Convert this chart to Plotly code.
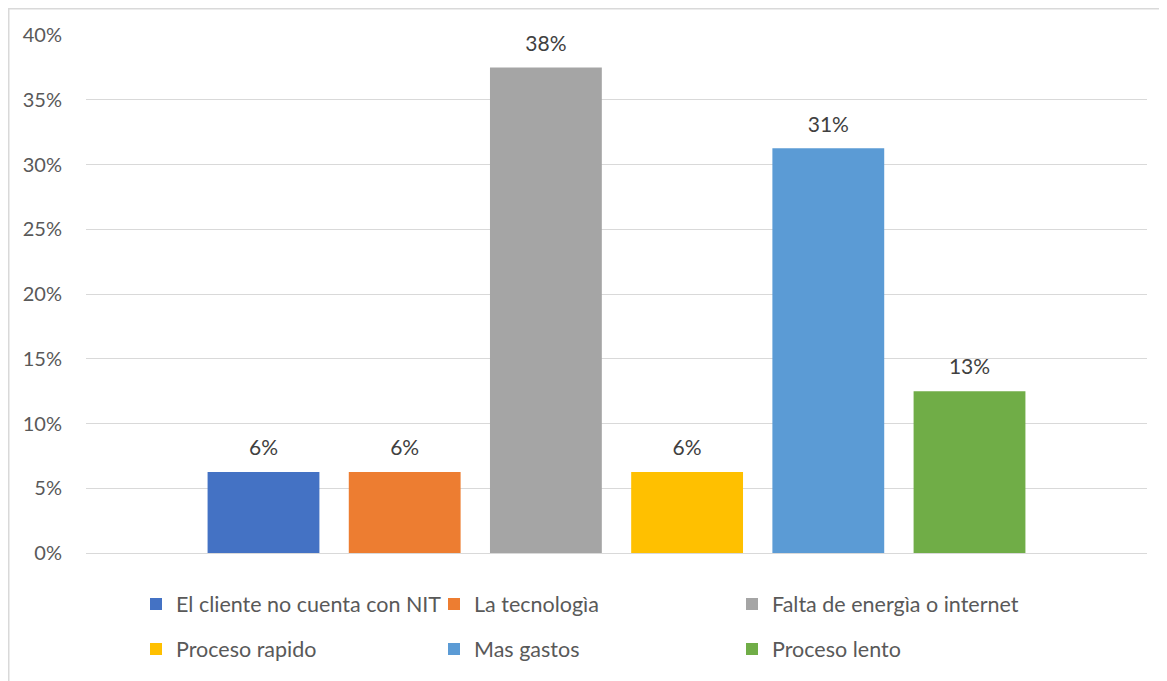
import plotly.graph_objects as go

categories = ["El cliente no cuenta con NIT", "La tecnologìa", "Falta de energìa o internet",
              "Proceso rapido", "Mas gastos", "Proceso lento"]
values = [0.0625, 0.0625, 0.375, 0.0625, 0.3125, 0.125]
labels = ["6%", "6%", "38%", "6%", "31%", "13%"]
colors = ["#4472C4", "#ED7D31", "#A5A5A5", "#FFC000", "#5B9BD5", "#70AD47"]
tick_vals = [0, 0.05, 0.10, 0.15, 0.20, 0.25, 0.30, 0.35, 0.40]
tick_text = ["0%", "5%", "10%", "15%", "20%", "25%", "30%", "35%", "40%"]

FONT = "Lato"
fig = go.Figure()
for i, (name, v, lab, c) in enumerate(zip(categories, values, labels, colors)):
    fig.add_trace(go.Bar(
        x=[""], y=[v], name=name, marker=dict(color=c, line=dict(width=0)),
        text=["<span style='font-size:21px'>" + lab + "</span><br>\u00a0"],
        textposition="outside", cliponaxis=False, constraintext="none",
        textfont=dict(family=FONT, size=9, color="#404040"),
        legend="legend" if i < 3 else "legend2",
    ))

# page has an 8px body margin; figure sized to fit the window
OFF = 8
W, H = 1167 - OFF, 681 - OFF
ml, mr, mt, mb = 78, 20, 27, 128
pw, ph = W - ml - mr, H - mt - mb

def px(x_page):
    return (x_page - OFF - ml) / pw

def py(y_page):
    return (H - mb - (y_page - OFF)) / ph

legend_common = dict(orientation="h", xanchor="left", yanchor="middle",
                     entrywidth=253, entrywidthmode="pixels",
                     font=dict(family=FONT, size=21.5, color="#595959"),
                     bgcolor="rgba(0,0,0,0)", itemclick=False, itemdoubleclick=False)

fig.update_layout(
    width=W, height=H,
    margin=dict(l=ml, r=mr, t=mt, b=mb, autoexpand=False),
    paper_bgcolor="white", plot_bgcolor="white",
    barmode="group", bargap=0.2015, bargroupgap=0.208,
    showlegend=True,
    legend=dict(x=px(136), y=py(604), **legend_common),
    legend2=dict(x=px(136), y=py(649), **legend_common),
    xaxis=dict(showticklabels=False, showgrid=False, zeroline=False, showline=False, ticks=""),
    yaxis=dict(range=[0, 0.40], tickvals=tick_vals, ticktext=tick_text,
               showgrid=True, gridcolor="#D9D9D9", gridwidth=1,
               zeroline=True, zerolinecolor="#D9D9D9", zerolinewidth=1,
               showline=False, ticks="", ticklabelstandoff=23,
               tickfont=dict(family=FONT, size=20, color="#595959")),
    shapes=[dict(type="rect", xref="paper", yref="paper",
                 x0=px(OFF + 0.75), x1=px(1180), y0=py(695), y1=py(OFF + 0.75),
                 line=dict(color="#D9D9D9", width=1.5), fillcolor="rgba(0,0,0,0)", layer="below")],
)
fig.write_html("out.html")
